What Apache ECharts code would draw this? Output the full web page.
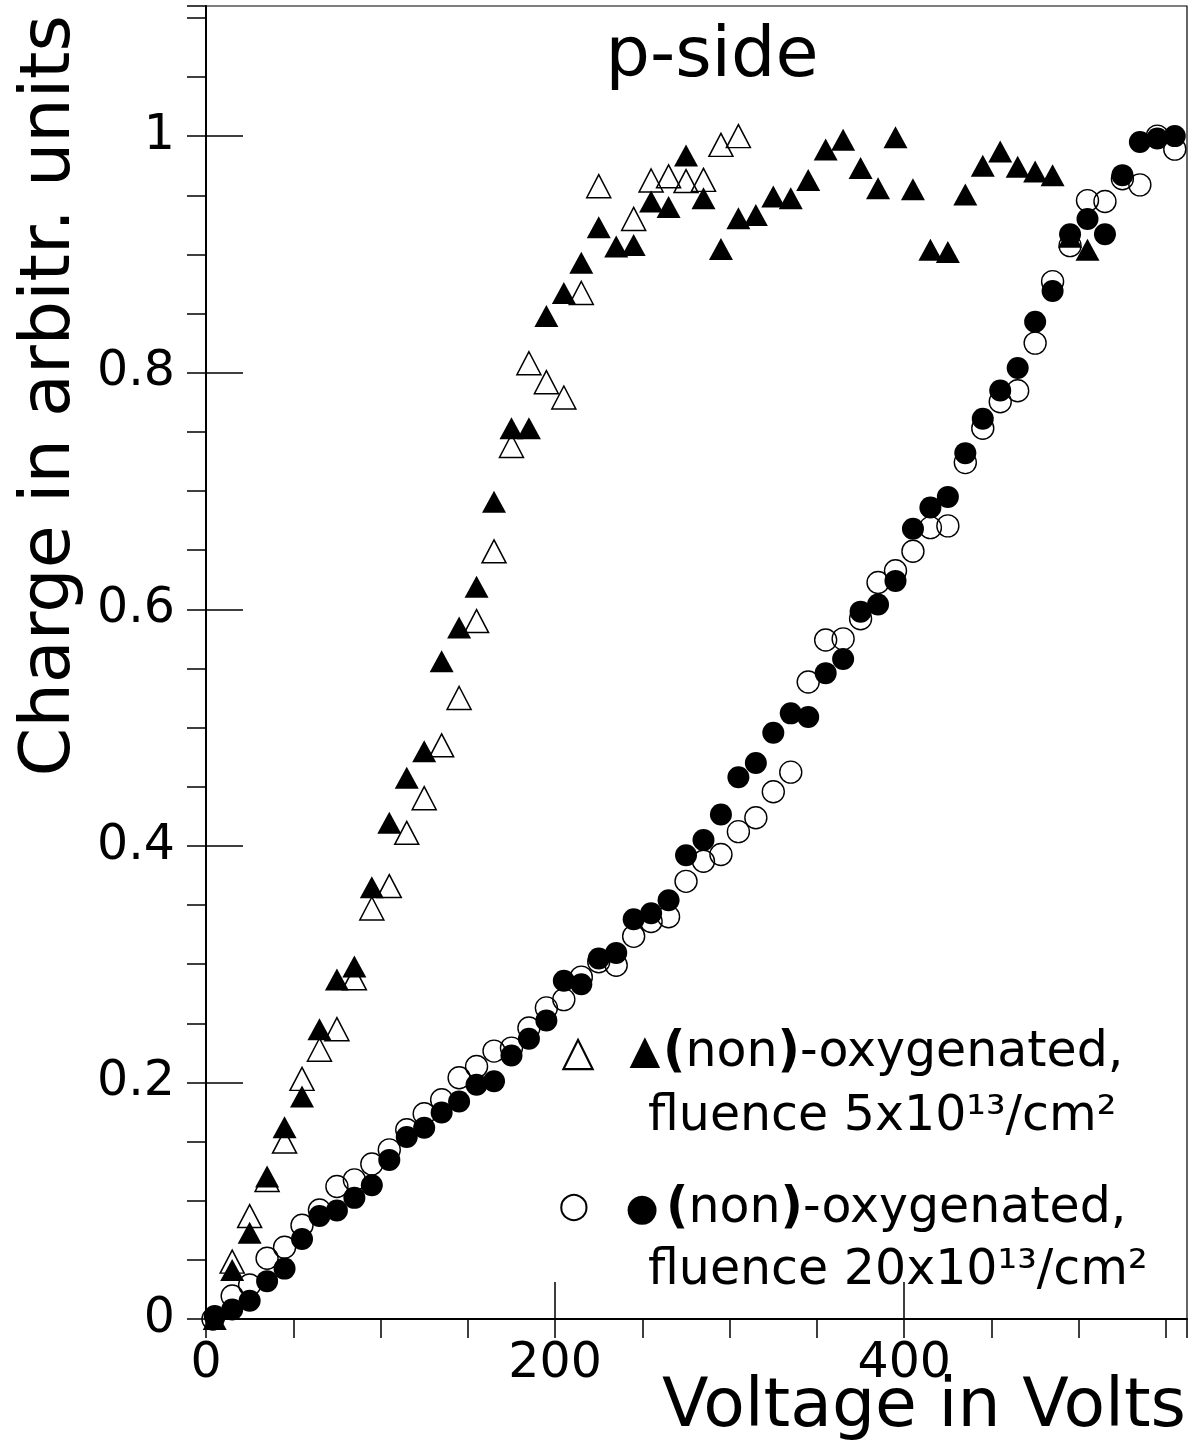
<!DOCTYPE html>
<html>
<head>
<meta charset="utf-8">
<script src="https://cdn.jsdelivr.net/npm/echarts@6/dist/echarts.min.js"></script>
<style>
html,body{margin:0;padding:0;background:#fff;}
#chart{width:1193px;height:1444px;}
</style>
</head>
<body>
<div id="chart"></div>
<script>
// ---- data ----
const triFilledV = [5,15,25,35,45,55,65,75,85,95,105,115,125,135,145,155,165,175,185,195,205,215,225,235,245,255,265,275,285,295,305,315,325,335,345,355,365,375,385,395,405,415,425,435,445,455,465,475,485,495,505];
const triFilledQ = [0.0,0.0415,0.073,0.1204,0.162,0.188,0.245,0.287,0.298,0.365,0.4195,0.4576,0.480,0.556,0.5845,0.619,0.691,0.753,0.753,0.848,0.8674,0.893,0.923,0.9066,0.908,0.9447,0.940,0.9836,0.9475,0.9046,0.9306,0.9334,0.949,0.9475,0.963,0.9887,0.997,0.973,0.956,0.999,0.955,0.904,0.902,0.9506,0.975,0.987,0.974,0.970,0.967,0.915,0.904];

const triOpenV = [15,25,35,45,55,65,75,85,95,105,115,125,135,145,155,165,175,185,195,205,215,225,245,255,265,275,285,295,305];
const triOpenQ = [0.0485,0.087,0.1176,0.150,0.203,0.2276,0.245,0.288,0.347,0.366,0.411,0.4403,0.485,0.525,0.590,0.649,0.738,0.808,0.792,0.779,0.8674,0.9577,0.930,0.9625,0.966,0.962,0.963,0.9926,1.0];

const circFilledV = [5,15,25,35,45,55,65,75,85,95,105,115,125,135,145,155,165,175,185,195,205,215,225,235,245,255,265,275,285,295,305,315,325,335,345,355,365,375,385,395,405,415,425,435,445,455,465,475,485,495,505,515,525,535,545,555];
const circFilledQ = [0.0025,0.008,0.0155,0.032,0.0426,0.0677,0.087,0.0917,0.1024,0.113,0.1345,0.1538,0.1616,0.1746,0.1839,0.198,0.201,0.2228,0.237,0.2524,0.286,0.283,0.3047,0.3095,0.338,0.343,0.354,0.392,0.405,0.4265,0.458,0.470,0.4956,0.512,0.509,0.546,0.558,0.598,0.604,0.624,0.668,0.686,0.695,0.732,0.761,0.785,0.804,0.843,0.869,0.917,0.930,0.917,0.967,0.995,0.998,1.0];

const circOpenV = [4,15,25,35,45,55,65,75,85,95,105,115,125,135,145,155,165,175,185,195,205,215,225,235,245,255,265,275,285,295,305,315,325,335,345,355,365,375,385,395,405,415,425,435,445,455,465,475,485,495,505,515,525,535,545,555];
const circOpenQ = [0.0,0.0195,0.0288,0.0514,0.0607,0.0793,0.0922,0.112,0.1176,0.131,0.143,0.160,0.1735,0.1853,0.204,0.2135,0.2265,0.229,0.246,0.263,0.270,0.289,0.302,0.299,0.3235,0.336,0.340,0.370,0.387,0.3927,0.412,0.4237,0.4457,0.4623,0.5385,0.574,0.575,0.592,0.6226,0.6326,0.649,0.669,0.6705,0.724,0.753,0.7754,0.7847,0.825,0.877,0.9074,0.9455,0.9447,0.964,0.9588,1.0,0.989];

const xTickLabels = ['0','200','400'];
const yTickLabels = ['0','0.2','0.4','0.6','0.8','1'];

const titleText = 'p-side';
const xTitle = 'Voltage in Volts';
const yTitle = 'Charge in arbitr. units';
const legend1a = '{b|(}non{b|)}-oxygenated,';
const legend1b = 'fluence 5x10\u00B9\u00B3/cm\u00B2';
const legend2a = '{b|(}non{b|)}-oxygenated,';
const legend2b = 'fluence 20x10\u00B9\u00B3/cm\u00B2';

// ---- chart ----
const FONT = '"DejaVu Sans", "Liberation Sans", sans-serif';
const zip = (a, b) => a.map((v, i) => [v, b[i]]);
const pickLabel = (labels) => (v) => {
  const m = labels.find(t => Math.abs(parseFloat(t) - v) < 1e-6);
  return m === undefined ? '' : m;
};

const chart = echarts.init(document.getElementById('chart'), null, {renderer: 'canvas'});

const XMIN = 0, XMAX = 562, YMIN = 0, YMAX = 1.11;

const axisCommon = {
  type: 'value',
  splitLine: {show: false},
  minorTick: {show: false},
  minorSplitLine: {show: false}
};

const option = {
  backgroundColor: '#ffffff',
  animation: false,
  grid: {
    left: 206, right: 6, top: 6, bottom: 125,
    containLabel: false,
    outerBoundsMode: 'none',
    show: true, borderColor: '#000', borderWidth: 1.2, backgroundColor: 'transparent'
  },
  xAxis: [
    Object.assign({}, axisCommon, {
      min: XMIN, max: XMAX, interval: 200,
      axisLine: {show: true, onZero: false, lineStyle: {color: '#000', width: 2}},
      axisTick: {show: true, inside: true, length: 37, lineStyle: {color: '#000', width: 1.5}},
      axisLabel: {show: true, margin: 21, fontSize: 49, fontFamily: FONT, color: '#000',
        showMaxLabel: false, formatter: pickLabel(xTickLabels)}
    }),
    Object.assign({}, axisCommon, {
      min: XMIN, max: XMAX, interval: 50,
      axisLine: {show: false},
      axisTick: {show: true, inside: true, length: 19, lineStyle: {color: '#000', width: 1.5}},
      axisLabel: {show: false}
    })
  ],
  yAxis: [
    Object.assign({}, axisCommon, {
      min: YMIN, max: YMAX, interval: 0.2,
      axisLine: {show: true, onZero: false, lineStyle: {color: '#000', width: 2}},
      axisTick: {show: true, inside: true, length: 37, lineStyle: {color: '#000', width: 1.5}},
      axisLabel: {show: true, margin: 31, fontSize: 49, fontFamily: FONT, color: '#000',
        showMaxLabel: false, formatter: pickLabel(yTickLabels)}
    }),
    Object.assign({}, axisCommon, {
      min: YMIN, max: YMAX, interval: 0.05,
      axisLine: {show: false},
      axisTick: {show: true, inside: true, length: 19, lineStyle: {color: '#000', width: 1.5}},
      axisLabel: {show: false}
    })
  ],
  series: [
    {
      name: 'oxygenated 5e13', type: 'scatter', data: zip(triOpenV, triOpenQ),
      symbol: 'triangle', symbolSize: [24, 23], clip: false, silent: true,
      itemStyle: {color: 'rgba(255,255,255,0)', borderColor: '#000', borderWidth: 1.5, opacity: 1},
      emphasis: {disabled: true}
    },
    {
      name: 'non-oxygenated 5e13', type: 'scatter', data: zip(triFilledV, triFilledQ),
      symbol: 'triangle', symbolSize: [24, 22], clip: false, silent: true,
      itemStyle: {color: '#000', opacity: 1},
      emphasis: {disabled: true}
    },
    {
      name: 'oxygenated 20e13', type: 'scatter', data: zip(circOpenV, circOpenQ),
      symbol: 'circle', symbolSize: 22, clip: false, silent: true,
      itemStyle: {color: 'rgba(255,255,255,0)', borderColor: '#000', borderWidth: 1.4, opacity: 1},
      emphasis: {disabled: true}
    },
    {
      name: 'non-oxygenated 20e13', type: 'scatter', data: zip(circFilledV, circFilledQ),
      symbol: 'circle', symbolSize: 22, clip: false, silent: true,
      itemStyle: {color: '#000', opacity: 1},
      emphasis: {disabled: true}
    }
  ],
  graphic: [
    {type: 'text', x: 712, y: 58, silent: true,
      style: {text: titleText, font: '400 70px ' + FONT, fill: '#000', align: 'center', verticalAlign: 'middle'}},
    {type: 'text', x: 1186, y: 1408, silent: true,
      style: {text: xTitle, font: '400 68px ' + FONT, fill: '#000', align: 'right', verticalAlign: 'middle'}},
    {type: 'text', x: 51, y: 15, rotation: Math.PI / 2, silent: true,
      style: {text: yTitle, font: '400 70px ' + FONT, fill: '#000', align: 'right', verticalAlign: 'middle'}},
    // legend entry 1
    {type: 'text', x: 578, y: 1054, silent: true,
      style: {text: '\u25B3', font: '400 43px ' + FONT, fill: '#000', align: 'center', verticalAlign: 'middle'}},
    {type: 'text', x: 645, y: 1053, silent: true,
      style: {text: '\u25B2', font: '400 40px ' + FONT, fill: '#000', align: 'center', verticalAlign: 'middle'}},
    {type: 'text', x: 663, y: 1053, silent: true,
      style: {text: legend1a, font: '400 49px ' + FONT, fill: '#000', align: 'left', verticalAlign: 'middle',
        rich: {b: {fontFamily: FONT, fontSize: 49, fontWeight: 'bold', fill: '#000'}}}},
    {type: 'text', x: 648, y: 1117, silent: true,
      style: {text: legend1b, font: '400 49px ' + FONT, fill: '#000', align: 'left', verticalAlign: 'middle'}},
    // legend entry 2
    {type: 'text', x: 574, y: 1208, silent: true,
      style: {text: '\u25CB', font: '400 36px ' + FONT, fill: '#000', align: 'center', verticalAlign: 'middle'}},
    {type: 'text', x: 642, y: 1210, silent: true,
      style: {text: '\u25CF', font: '400 38px ' + FONT, fill: '#000', align: 'center', verticalAlign: 'middle'}},
    {type: 'text', x: 666, y: 1209, silent: true,
      style: {text: legend2a, font: '400 49px ' + FONT, fill: '#000', align: 'left', verticalAlign: 'middle',
        rich: {b: {fontFamily: FONT, fontSize: 49, fontWeight: 'bold', fill: '#000'}}}},
    {type: 'text', x: 648, y: 1271, silent: true,
      style: {text: legend2b, font: '400 49px ' + FONT, fill: '#000', align: 'left', verticalAlign: 'middle'}}
  ]
};

chart.setOption(option);
</script>
</body>
</html>
